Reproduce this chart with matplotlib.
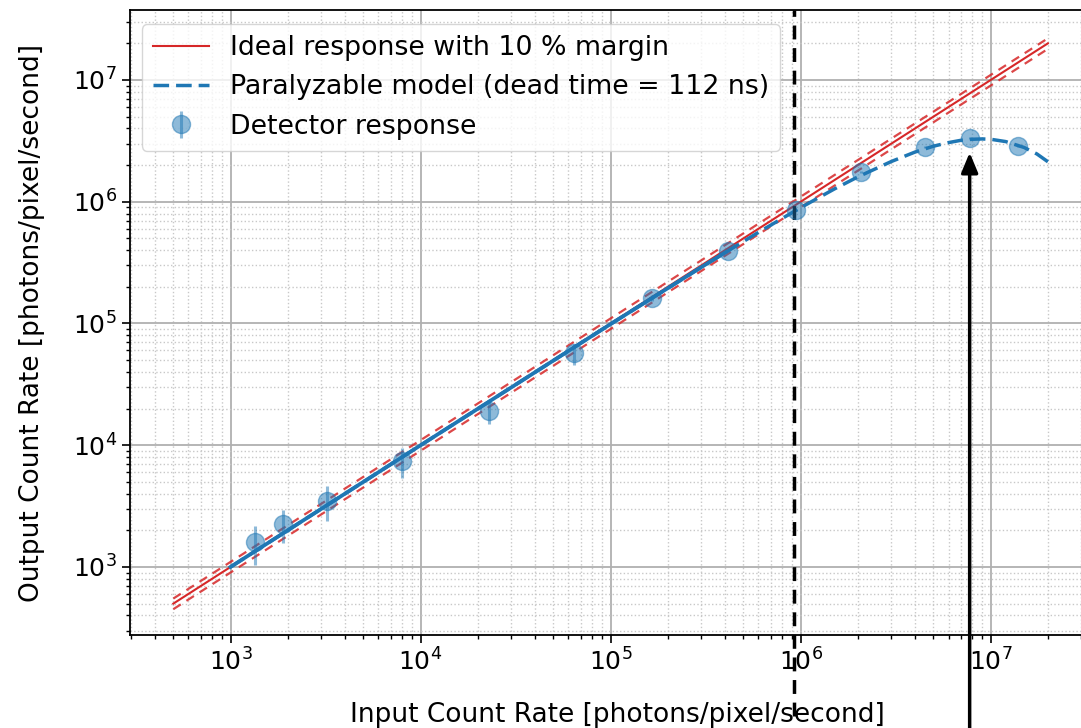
import matplotlib
matplotlib.use('Agg')
import matplotlib.pyplot as plt

input_rate = [1350, 1900, 3200, 8000, 22800, 63800, 166000, 413000,
              942000, 2.07e6, 4.5e6, 7.75e6, 1.39e7]
output_rate = [1600, 2250, 3500, 7400, 19000, 57000, 162000, 395000,
               860000, 1.75e6, 2.8e6, 3.33e6, 2.88e6]
output_err = [560, 690, 1100, 2000, 4200, 11000, 8000, 12000,
              20000, 40000, 60000, 70000, 60000]

# ideal y = x line and its 10 % margins
ideal_x = [5e2, 2e7]
ideal_y = [5e2, 2e7]
ideal_hi = [5.5e2, 2.2e7]
ideal_lo = [4.5e2, 1.8e7]

# paralyzable model, dead time 112 ns
model_x = [1e3, 1e4, 1e5, 3e5, 6e5, 1e6, 1.5e6, 2e6, 3e6, 4e6, 5e6, 6e6,
           7e6, 8e6, 9e6, 1e7, 1.2e7, 1.5e7, 1.75e7, 2e7]
model_y = [1e3, 9.99e3, 9.89e4, 2.90e5, 5.61e5, 8.94e5, 1.27e6, 1.60e6,
           2.14e6, 2.56e6, 2.86e6, 3.06e6, 3.20e6, 3.26e6, 3.28e6, 3.26e6,
           3.12e6, 2.79e6, 2.47e6, 2.13e6]
low_x = [1e3, 1e4, 1e5, 3e5, 4e5]
low_y = [1e3, 9.99e3, 9.89e4, 2.90e5, 3.82e5]

saturation_x = 9.2e5
arrow_x = 7.75e6
arrow_y = 2.67e6

fig = plt.figure(figsize=(10.81, 7.28), dpi=100)
ax = fig.add_axes([0.1203, 0.1277, 0.902, 0.8586])

ax.plot(ideal_x, ideal_y, color='#d62728', lw=1.5,
        label='Ideal response with 10 % margin')
ax.plot(ideal_x, ideal_hi, color='#d62728', lw=1.6, ls=(0, (4, 3)), alpha=0.85)
ax.plot(ideal_x, ideal_lo, color='#d62728', lw=1.6, ls=(0, (4, 3)), alpha=0.85)
ax.plot(low_x, low_y, color='#1f77b4', lw=2.7)
ax.plot(model_x, model_y, color='#1f77b4', lw=2.5, ls=(0, (4.5, 2)),
        label='Paralyzable model (dead time = 112 ns)')
ax.errorbar(input_rate, output_rate, yerr=output_err, fmt='o', color='#1f77b4',
            ms=13, elinewidth=2.2, alpha=0.5, label='Detector response')

ax.axvline(saturation_x, ymin=-0.13, ymax=1, color='black', lw=2.5,
           ls=(0, (4, 2.5)), clip_on=False)
ax.annotate('', xy=(arrow_x, arrow_y), xytext=(arrow_x, -0.2),
            textcoords=('data', 'axes fraction'), xycoords='data',
            arrowprops=dict(arrowstyle='-|>,head_length=1.2,head_width=0.5',
                            color='black', lw=2.5), annotation_clip=False)

ax.set_xscale('log')
ax.set_yscale('log')
ax.set_xlim(296, 4e7)
ax.set_ylim(276, 3.76e7)

ax.grid(which='major', color='#b0b0b0', lw=1.3)
ax.grid(which='minor', color='#c8c8c8', lw=1.0, ls=':')
ax.set_axisbelow(True)
ax.tick_params(which='major', labelsize=18, length=6, width=1.2)
ax.tick_params(which='minor', length=3, width=1.0)
for s in ax.spines.values():
    s.set_linewidth(1.3)

ax.set_xlabel('Input Count Rate [photons/pixel/second]', fontsize=19, labelpad=19)
ax.set_ylabel('Output Count Rate [photons/pixel/second]', fontsize=19, labelpad=20)

ax.legend(loc='upper left', fontsize=19.3, handlelength=2.1, labelspacing=0.5,
          bbox_to_anchor=(0.004, 0.99), borderaxespad=0.3)

fig.savefig('out.png', dpi=100)
